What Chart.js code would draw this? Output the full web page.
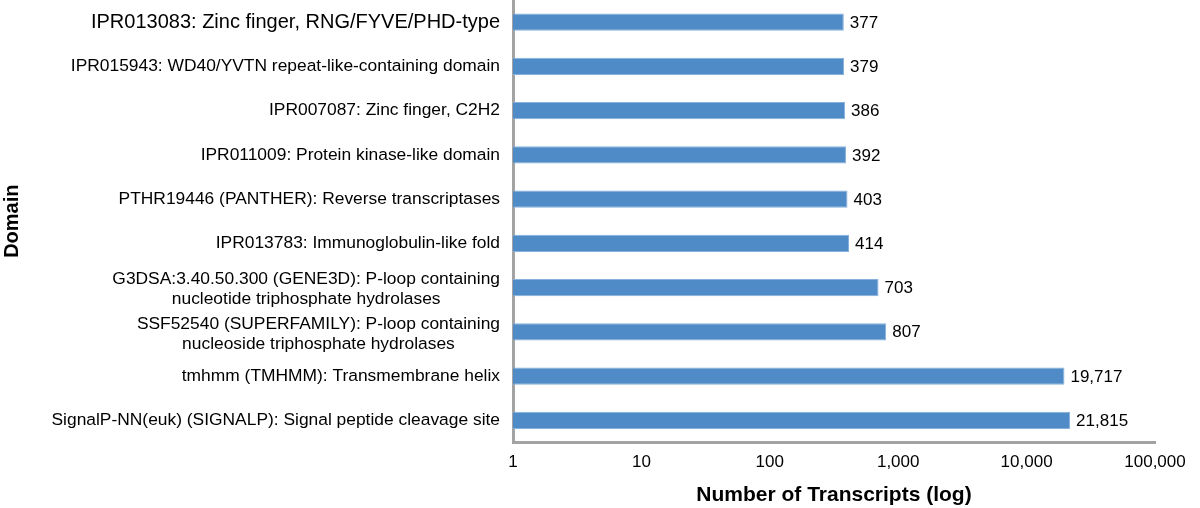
<!DOCTYPE html>
<html>
<head>
<meta charset="utf-8">
<script src="https://cdn.jsdelivr.net/npm/chart.js@4.4.0/dist/chart.umd.min.js"></script>
<style>
  html, body { margin: 0; padding: 0; background: #fff; }
  canvas { display: block; }
</style>
</head>
<body>
<canvas id="myChart" width="1200" height="508"></canvas>
<script>
// top to bottom, as in the picture
const domains = [
  ['IPR013083: Zinc finger, RNG/FYVE/PHD-type'],
  ['IPR015943: WD40/YVTN repeat-like-containing domain'],
  ['IPR007087: Zinc finger, C2H2'],
  ['IPR011009: Protein kinase-like domain'],
  ['PTHR19446 (PANTHER): Reverse transcriptases'],
  ['IPR013783: Immunoglobulin-like fold'],
  ['G3DSA:3.40.50.300 (GENE3D): P-loop containing', 'nucleotide triphosphate hydrolases'],
  ['SSF52540 (SUPERFAMILY): P-loop containing', 'nucleoside triphosphate hydrolases'],
  ['tmhmm (TMHMM): Transmembrane helix'],
  ['SignalP-NN(euk) (SIGNALP): Signal peptide cleavage site']
];
const transcripts = [377, 379, 386, 392, 403, 414, 703, 807, 19717, 21815];
const xTickValues = [1, 10, 100, 1000, 10000, 100000];

const FONT = '"Liberation Sans", Arial, Helvetica, sans-serif';
const AXIS_LEFT = 513;

// draws the domain names (centred lines, right edge near the axis) and the bar values
const labelPlugin = {
  id: 'labelPlugin',
  afterDraw(chart) {
    const ctx = chart.ctx;
    const yScale = chart.scales.y;
    const meta = chart.getDatasetMeta(0);
    ctx.save();
    ctx.fillStyle = '#000';
    ctx.textBaseline = 'middle';
    domains.forEach((lines, i) => {
      const size = i === 0 ? 20 : 17.4;
      ctx.font = size + 'px ' + FONT;
      const widths = lines.map(l => ctx.measureText(l).width);
      const maxW = Math.max(...widths);
      const right = chart.chartArea.left - 13;
      const cy = yScale.getPixelForValue(i) + (lines.length > 1 ? 2 : 0);
      const lh = 20;
      lines.forEach((l, j) => {
        const y = cy + (j - (lines.length - 1) / 2) * lh;
        ctx.textAlign = 'center';
        ctx.fillText(l, right - maxW / 2, y);
      });
    });
    ctx.font = '17px ' + FONT;
    ctx.textAlign = 'left';
    meta.data.forEach((bar, i) => {
      ctx.fillText(transcripts[i].toLocaleString('en-US'), bar.x + 6, bar.y + 1);
    });
    ctx.restore();
  }
};

new Chart(document.getElementById('myChart').getContext('2d'), {
  type: 'bar',
  data: {
    labels: domains,
    datasets: [{
      data: transcripts,
      backgroundColor: '#4f8cc7',
      borderColor: '#87b0dc',
      borderWidth: 1,
      barPercentage: 0.95,
      categoryPercentage: 0.41
    }]
  },
  options: {
    indexAxis: 'y',
    responsive: false,
    animation: false,
    devicePixelRatio: 1,
    layout: { padding: { top: 0, right: 45, bottom: 0, left: 0 } },
    plugins: {
      legend: { display: false },
      tooltip: { enabled: false }
    },
    scales: {
      x: {
        type: 'logarithmic',
        min: 1,
        max: 100000,
        afterBuildTicks: (scale) => {
          scale.ticks = xTickValues.map(v => ({ value: v }));
        },
        grid: { display: false, drawTicks: false },
        border: { display: true, color: '#a3a3a3', width: 3 },
        ticks: {
          padding: 10,
          color: '#000',
          maxRotation: 0,
          autoSkip: false,
          font: { family: FONT, size: 17 },
          callback: (v) => Number(v).toLocaleString('en-US')
        },
        title: {
          display: true,
          text: 'Number of Transcripts (log)',
          color: '#000',
          font: { family: FONT, size: 21, weight: 'bold' },
          padding: { top: 0, bottom: 0 }
        }
      },
      y: {
        grid: { display: false, drawTicks: false },
        border: { display: true, color: '#a3a3a3', width: 3 },
        ticks: { display: false },
        afterFit: (scale) => { scale.width = AXIS_LEFT; },
        title: {
          display: true,
          text: 'Domain',
          color: '#000',
          font: { family: FONT, size: 20, weight: 'bold' },
          padding: { top: 0, bottom: 0 }
        }
      }
    }
  },
  plugins: [labelPlugin]
});
</script>
</body>
</html>
